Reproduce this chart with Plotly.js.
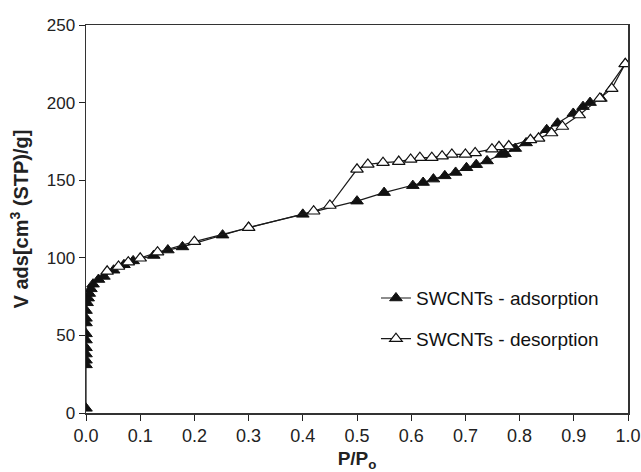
<!DOCTYPE html>
<html>
<head>
<meta charset="utf-8">
<script src="https://cdn.plot.ly/plotly-3.0.1.min.js"></script>
<style>html,body{margin:0;padding:0;background:#fff;}#chart{width:641px;height:472px;}</style>
</head>
<body>
<div id="chart"></div>
<script>
var adsX = [0.000, 0.000, 0.000, 0.000, 0.000, 0.000, 0.000, 0.000, 0.000, 0.000, 0.002, 0.004, 0.006, 0.009, 0.013, 0.023, 0.033, 0.051, 0.070, 0.087, 0.125, 0.151, 0.178, 0.252, 0.300, 0.400, 0.500, 0.550, 0.603, 0.622, 0.641, 0.662, 0.682, 0.702, 0.720, 0.740, 0.766, 0.773, 0.792, 0.812, 0.850, 0.870, 0.899, 0.917, 0.930, 0.950, 0.995];
var adsY = [3, 31, 34, 38, 42, 47, 51, 58, 61, 66, 71, 74, 77, 80, 83, 86, 88, 92, 95.5, 98, 101.5, 105, 107, 114.6, 119.5, 128, 136.5, 142, 146.5, 148.5, 150.7, 152.8, 155, 158, 160, 162.4, 166.6, 167, 170.4, 174, 182.5, 186.7, 193, 197.4, 200, 202.7, 225];
var desX = [0.995, 0.970, 0.948, 0.910, 0.879, 0.859, 0.835, 0.820, 0.780, 0.762, 0.749, 0.718, 0.700, 0.675, 0.657, 0.638, 0.616, 0.599, 0.577, 0.548, 0.520, 0.500, 0.450, 0.420, 0.300, 0.200, 0.132, 0.100, 0.078, 0.060, 0.039];
var desY = [225, 209, 202.7, 192, 184.6, 180.4, 177, 176, 172, 171.5, 170, 167.6, 166.6, 166.6, 165.5, 164.5, 164.5, 163.4, 162, 161.3, 160.2, 157, 133.7, 130, 119.5, 110.4, 103.6, 99.7, 97.2, 94.4, 91.3];
var seriesNames = ["SWCNTs - adsorption", "SWCNTs - desorption"];
var xTicks = [0, 0.1, 0.2, 0.3, 0.4, 0.5, 0.6, 0.7, 0.8, 0.9, 1.0];
var xTickText = ["0.0", "0.1", "0.2", "0.3", "0.4", "0.5", "0.6", "0.7", "0.8", "0.9", "1.0"];
var yTicks = [0, 50, 100, 150, 200, 250];

var traces = [
  {x: adsX, y: adsY, name: seriesNames[0], mode: "lines+markers", type: "scatter", legendgroup: "a",
   line: {color: "#1a1a1a", width: 1.2},
   marker: {symbol: "triangle-up", size: 11, color: "#111", line: {color: "#111", width: 1}}},
  {x: desX, y: desY, name: seriesNames[1], mode: "lines+markers", type: "scatter", legendgroup: "b",
   line: {color: "#1a1a1a", width: 1.2},
   marker: {symbol: "triangle-up", size: 11, color: "#fff", line: {color: "#111", width: 1.2}}}
];

var layout = {
  width: 641, height: 472,
  margin: {l: 86, r: 13, t: 25, b: 59},
  paper_bgcolor: "#fff", plot_bgcolor: "#fff",
  font: {family: "Liberation Sans, Arial, sans-serif", color: "#222", size: 17},
  showlegend: true,
  legend: {x: 0.535, y: 0.345, xanchor: "left", yanchor: "top", bgcolor: "rgba(0,0,0,0)",
           font: {size: 19, color: "#111"}, tracegroupgap: 13, traceorder: "grouped"},
  xaxis: {range: [0, 1], tickvals: xTicks, ticktext: xTickText, ticks: "outside", ticklen: 6,
          tickfont: {size: 18, color: "#222"},
          tickcolor: "#222", showline: true, linecolor: "#333", linewidth: 1.5, mirror: true,
          showgrid: false, zeroline: false,
          title: {text: "<b>P/P<sub>o</sub></b>", font: {size: 19, color: "#222"}, standoff: 6}},
  yaxis: {range: [0, 250], tickvals: yTicks, ticks: "outside", ticklen: 6,
          tickfont: {size: 17, color: "#222"},
          tickcolor: "#222", showline: true, linecolor: "#333", linewidth: 1.5, mirror: true,
          showgrid: false, zeroline: false,
          title: {text: "<b>V ads[cm<sup>3</sup> (STP)/g]</b>", font: {size: 20, color: "#222"}, standoff: 12}}
};
Plotly.newPlot("chart", traces, layout, {displayModeBar: false, staticPlot: true});
</script>
</body>
</html>
